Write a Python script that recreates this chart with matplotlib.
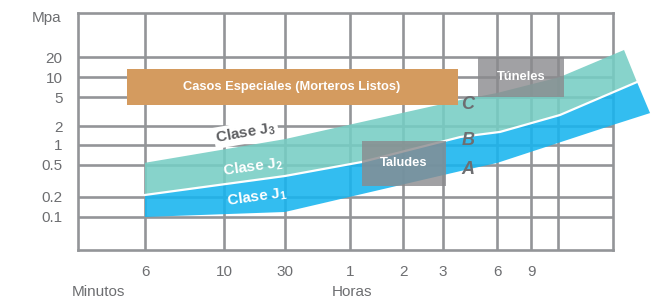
import numpy as np
import matplotlib
matplotlib.use("Agg")
import matplotlib.pyplot as plt

plt.rcParams['font.family'] = ['Liberation Sans', 'DejaVu Sans']

# ---------------- data ----------------
# time axis (minutes) gridlines and labels
grid_times = [6, 10, 30, 60, 120, 180, 360, 540, 720]
time_labels = ['6', '10', '30', '1', '2', '3', '6', '9', '']
# strength axis (MPa)
mpa_ticks = [0.1, 0.2, 0.5, 1, 2, 5, 10, 20]
mpa_labels = ['0.1', '0.2', '0.5', '1', '2', '5', '10', '20']

# upper limit of class J3 band (C line)
top_t = [6, 30, 225, 360, 735, 1455]
top_mpa = [0.54, 1.24, 4.55, 5.74, 10.0, 25.5]
# boundary J2/J1 (B line)
mid_t = [6, 30, 70, 225, 373, 735, 1670]
mid_mpa = [0.212, 0.365, 0.555, 1.34, 1.61, 2.83, 8.4]
# lower limit of class J1 (A line)
low_t = [6, 30, 225, 360, 720, 1294, 1920]
low_mpa = [0.10, 0.119, 0.42, 0.536, 1.076, 2.07, 3.01]

# application ranges (time in minutes, strength in MPa)
especiales_t = [5.33, 218]
especiales_mpa = [3.88, 13.2]
tuneles_t = [282, 767]
tuneles_mpa = [5, 20]
taludes_t = [70, 187]
taludes_mpa = [0.274, 1.157]

# ---------------- layout of the schematic axes ----------------
x_grid_pos = [67, 146, 207, 272, 325, 365, 419, 453, 480]   # spacing of time gridlines
y_grid_pos = [33, 53, 85, 105, 124, 153, 173, 193]          # spacing of MPa gridlines
X_SPAN, Y_SPAN = 535, 237


def piecewise(xs, ys):
    xs = np.asarray(xs, float)
    ys = np.asarray(ys, float)
    s0 = (ys[1] - ys[0]) / (xs[1] - xs[0])
    s1 = (ys[-1] - ys[-2]) / (xs[-1] - xs[-2])

    def f(v):
        v = np.asarray(v, float)
        out = np.interp(v, xs, ys)
        out = np.where(v < xs[0], ys[0] + (v - xs[0]) * s0, out)
        out = np.where(v > xs[-1], ys[-1] + (v - xs[-1]) * s1, out)
        return out
    return f


def log_scale_funcs(values, positions):
    lv = np.log10(values)
    fwd_lin = piecewise(lv, positions)
    inv_lin = piecewise(positions, lv)

    def fwd(v):
        v = np.asarray(v, float)
        return fwd_lin(np.log10(np.clip(v, 1e-300, None)))

    def inv(p):
        return 10.0 ** inv_lin(p)
    return fwd, inv


xf, xi = log_scale_funcs(grid_times, x_grid_pos)
yf, yi = log_scale_funcs(mpa_ticks, y_grid_pos)

GRID = '#939598'
TXT = '#6d6e71'
TEAL = '#76cdc4'
BLUE = '#17b4ef'
ORANGE = '#d49b5f'
GRAYBOX = '#8a8a8d'

fig = plt.figure(figsize=(6.58, 2.99), dpi=100)
ax = fig.add_axes([78 / 658, 49 / 299, 535 / 658, 237 / 299])
ax.set_xscale('function', functions=(xf, xi))
ax.set_yscale('function', functions=(yf, yi))
ax.set_xlim(float(xi(0)), float(xi(X_SPAN)))
ax.set_ylim(float(yi(0)), float(yi(Y_SPAN)))

ax.set_xticks(grid_times)
ax.set_xticklabels(time_labels)
ax.set_yticks(mpa_ticks)
ax.set_yticklabels(mpa_labels)
ax.minorticks_off()
ax.tick_params(length=0, labelsize=11, labelcolor=TXT)
ax.tick_params(axis='x', pad=11)
ax.tick_params(axis='y', pad=11)
ax.set_axisbelow(True)
ax.grid(True, color=GRID, linewidth=1.9)
for sp in ax.spines.values():
    sp.set_color(GRID)
    sp.set_linewidth(1.9)
    sp.set_zorder(0.6)

# bands
teal_x = list(top_t) + list(mid_t[::-1])
teal_y = list(top_mpa) + list(mid_mpa[::-1])
ax.fill(teal_x, teal_y, color=TEAL, alpha=0.88, lw=0, zorder=2, clip_on=False)
blue_x = list(mid_t) + list(low_t[::-1])
blue_y = list(mid_mpa) + list(low_mpa[::-1])
ax.fill(blue_x, blue_y, color=BLUE, alpha=0.88, lw=0, zorder=2, clip_on=False)
ax.plot(mid_t, mid_mpa, color='white', lw=1.6, zorder=3, clip_on=False,
        solid_joinstyle='round')


def box(ts, ms, color, alpha):
    ax.fill([ts[0], ts[1], ts[1], ts[0]], [ms[0], ms[0], ms[1], ms[1]],
            color=color, alpha=alpha, lw=0, zorder=4)


box(especiales_t, especiales_mpa, ORANGE, 1.0)
box(tuneles_t, tuneles_mpa, GRAYBOX, 0.8)
box(taludes_t, taludes_mpa, GRAYBOX, 0.8)

tA = ax.transAxes
ax.text(0.400, 0.688, 'Casos Especiales (Morteros Listos)', transform=tA,
        ha='center', va='center', color='white', fontsize=9.3,
        fontweight='bold', zorder=6)
ax.text(0.828, 0.730, 'Túneles', transform=tA, ha='center', va='center',
        color='white', fontsize=9.3, fontweight='bold', zorder=6)
ax.text(0.609, 0.367, 'Taludes', transform=tA, ha='center', va='center',
        color='white', fontsize=9.3, fontweight='bold', zorder=6)

for lab, yy in (('C', 0.616), ('B', 0.460), ('A', 0.338)):
    ax.text(0.729, yy, lab, transform=tA, ha='center', va='center',
            color=TXT, fontsize=13, fontweight='bold', fontstyle='italic',
            zorder=6)

ax.text(0.314, 0.494, r'Clase J$_\mathregular{3}$', transform=tA, ha='center',
        va='center', rotation=10, rotation_mode='anchor', color='#5d5e61',
        fontsize=11, fontweight='bold', zorder=5,
        bbox=dict(boxstyle='square,pad=0.12', fc='white', ec='none'))
ax.text(0.327, 0.350, r'Clase J$_\mathregular{2}$', transform=tA, ha='center',
        va='center', rotation=8, rotation_mode='anchor', color='white',
        fontsize=11, fontweight='bold', zorder=5)
ax.text(0.335, 0.224, r'Clase J$_\mathregular{1}$', transform=tA, ha='center',
        va='center', rotation=8, rotation_mode='anchor', color='white',
        fontsize=11, fontweight='bold', zorder=5)

fig.text(47 / 658, 1 - 18 / 299, 'Mpa', ha='center', va='center',
         color=TXT, fontsize=11)
fig.text(98 / 658, 1 - 292 / 299, 'Minutos', ha='center', va='center',
         color=TXT, fontsize=11)
fig.text(352 / 658, 1 - 292 / 299, 'Horas', ha='center', va='center',
         color=TXT, fontsize=11)

fig.savefig('out.png', dpi=100)
